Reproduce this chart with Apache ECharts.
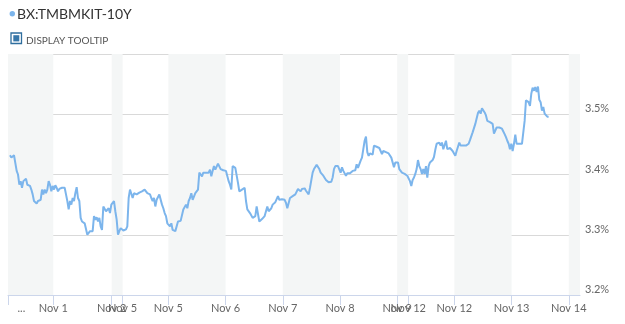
<!DOCTYPE html>
<html><head><meta charset="utf-8">
<script src="https://cdn.jsdelivr.net/npm/echarts@6/dist/echarts.min.js"></script>
<style>html,body{margin:0;padding:0;background:#fff}#c{width:625px;height:324px}</style>
</head><body><div id="c"></div>
<script>
const seriesName = 'BX:TMBMKIT-10Y';
const legendLabel = 'DISPLAY TOOLTIP';
const startHour = 0.84;
const stepHours = 0.5594;
const yieldsPart1 = [
3.432,3.428,3.426,3.432,3.433,3.406,3.400,3.383,3.389,3.378,3.389,3.392,3.393,3.383,3.386,3.381,3.375,3.367,3.356,3.358,
3.352,3.356,3.357,3.358,3.375,3.367,3.375,3.369,3.375,3.389,3.383,3.372,3.381,3.375,3.382,3.378,3.372,3.376,3.375,3.378,
3.379,3.378,3.367,3.356,3.342,3.356,3.350,3.361,3.356,3.369,3.379,3.361,3.356,3.328,3.322,3.325,3.319,3.317,3.300,3.303,
3.306,3.304,3.306,3.331,3.325,3.329,3.322,3.328,3.314,3.308,3.347,3.350,3.339,3.342,3.344,3.336,3.350,3.347,3.356,3.339,
3.325,3.300,3.306,3.311,3.308,3.307,3.308,3.309,3.314,3.361,3.375,3.378,3.361,3.369,3.367,3.367,3.369,3.370,3.367,3.372,
3.372,3.375,3.372,3.369,3.367,3.367,3.361,3.356,3.361,3.347,3.358,3.358,3.367,3.369,3.350,3.344,3.336,3.331,3.319,3.317,
3.314,3.319,3.308,3.311,3.306,3.304,3.322,3.322,3.323,3.325,3.342,3.344,3.350,3.344,3.356,3.361,3.369,3.358,3.361,3.369,
3.367,3.375,3.403,3.406,3.397,3.403,3.400,3.403,3.404,3.403,3.408,3.397,3.406,3.414,3.408,3.411,3.418,3.417,3.409,3.408,
3.407,3.406,3.406,3.403,3.389,3.383,3.375,3.414,3.411,3.411,3.411,3.386,3.372,3.369,3.375,3.372,3.378,3.356,3.342,3.339,
3.336,3.339,3.328,3.331,3.331,3.347,3.344,3.322,3.325,3.326,3.328,3.331,3.333,3.347,3.339,3.342,3.344,3.350,3.353,3.354,
3.356,3.364,3.358,3.361,3.359,3.356,3.358,3.353,3.344,3.344
];
const yieldsPart2 = [
3.361,3.362,3.364,3.366,3.367,3.366,3.376,3.373,3.372,3.376,3.374,3.377,3.373,3.376,3.367,3.378,3.381,3.403,3.409,3.406,
3.416,3.414,3.409,3.403,3.401,3.398,3.395,3.391,3.389,3.387,3.387,3.388,3.395,3.409,3.414,3.416,3.414,3.416,3.403,3.412,
3.406,3.403,3.398,3.402,3.401,3.402,3.403,3.406,3.409,3.407,3.417,3.411,3.414,3.423,3.428,3.442,3.456,3.463,3.437,3.431,
3.435,3.437,3.433,3.448,3.448,3.446,3.446,3.444,3.442,3.434,3.439,3.438,3.437,3.439,3.435,3.437,3.428,3.431,3.412,3.420,
3.422,3.420,3.409,3.406,3.403,3.406,3.401,3.398,3.398,3.395,3.389,3.381,3.391,3.395,3.401,3.409,3.424,3.414,3.409,3.401,
3.409,3.401,3.414,3.395,3.414,3.420,3.422,3.424,3.429,3.441,3.451,3.452,3.453,3.448,3.453,3.442,3.444,3.456,3.442,3.445,
3.444,3.442,3.439,3.437,3.431,3.439,3.442,3.453,3.448,3.448,3.448,3.448,3.448,3.448,3.451,3.457,3.459,3.470,3.473,3.484,
3.487,3.502,3.506,3.501,3.510,3.507,3.503,3.498,3.489,3.492,3.487,3.487,3.484,3.468,3.467,3.478,3.476,3.478,3.476,3.476,
3.473,3.467,3.462,3.456,3.451,3.442,3.451,3.439,3.451,3.466,3.451,3.451,3.451,3.448,3.451,3.451,3.489,3.523,3.526,3.520,
3.514,3.534,3.544,3.539,3.545,3.537,3.546,3.524,3.520,3.506,3.512,3.501,3.498,3.496,3.496
];
const yields = yieldsPart1.concat(yieldsPart2);
const tickHours = [0, 19.0, 43.5, 48.1, 67.3, 91.3, 115.3, 139.3, 163.3, 167.9, 187.3, 211.3, 235.3];
const labelHours = [5.6, 19.0, 43.5, 48.1, 67.3, 91.3, 115.3, 139.3, 163.3, 167.9, 187.3, 211.3, 235.3];
const tickLabels = ['...', 'Nov 1', 'Nov 2', 'Nov 5', 'Nov 5', 'Nov 6', 'Nov 7', 'Nov 8', 'Nov 9', 'Nov 12', 'Nov 12', 'Nov 13', 'Nov 14'];
const axisMinHour = 0, axisMaxHour = 240;
const shadedBands = [[0, 19.0], [43.5, 48.1], [67.3, 91.3], [115.3, 139.3], [163.3, 167.9], [187.3, 211.3], [235.3, 240]];
const yMin = 3.2, yMax = 3.6, yStep = 0.1;

const lineData = yields.map((v, i) => [startHour + i * stepHours, v]);

const chart = echarts.init(document.getElementById('c'), null, {renderer: 'canvas'});
const FONT = 'Lato, "Open Sans", sans-serif';
chart.setOption({
  animation: false,
  backgroundColor: '#ffffff',
  grid: {left: 8, right: 45, top: 54, bottom: 29, containLabel: false, outerBoundsMode: 'none'},
  xAxis: {
    type: 'value', min: axisMinHour, max: axisMaxHour,
    axisLine: {show: true, lineStyle: {color: '#ccd6eb', width: 1}},
    axisTick: {show: true, customValues: tickHours, length: 10, lineStyle: {color: '#ccd6eb'}},
    axisLabel: {
      customValues: labelHours, color: '#666666', fontSize: 11, fontFamily: FONT, margin: 8,
      hideOverlap: false,
      formatter: function (v) {
        for (let i = 0; i < labelHours.length; i++) if (Math.abs(labelHours[i] - v) < 0.01) return tickLabels[i];
        return '';
      }
    },
    splitLine: {show: false}
  },
  yAxis: {
    type: 'value', position: 'right', min: yMin, max: yMax, interval: yStep,
    axisLine: {show: false}, axisTick: {show: false},
    axisLabel: {
      color: '#666666', fontSize: 11, fontFamily: FONT, margin: 5, showMaxLabel: false,
      verticalAlign: 'bottom',
      formatter: v => v.toFixed(1) + '%'
    },
    splitLine: {show: true, lineStyle: {color: '#d9d9d9', width: 1}}
  },
  series: [
    {
      type: 'line', z: -1, silent: true, data: lineData, showSymbol: false,
      lineStyle: {opacity: 0}, tooltip: {show: false},
      markArea: {
        silent: true, itemStyle: {color: '#f4f6f6'},
        data: shadedBands.map(b => [{xAxis: b[0]}, {xAxis: b[1]}])
      }
    },
    {
      name: seriesName, type: 'line', data: lineData, showSymbol: false, smooth: false,
      lineStyle: {color: '#7cb5ec', width: 2}, itemStyle: {color: '#7cb5ec'}
    }
  ],
  graphic: [
    {type: 'circle', shape: {cx: 12.3, cy: 13.8, r: 2.7}, style: {fill: '#7cb5ec'}},
    {type: 'text', x: 17, y: 14, style: {text: seriesName, fill: '#333333', font: '14px ' + FONT, textVerticalAlign: 'middle'}},
    {type: 'rect', shape: {x: 11, y: 33, width: 10.5, height: 10.5}, style: {fill: '#ffffff', stroke: '#2f6e9e', lineWidth: 1.3}},
    {type: 'rect', shape: {x: 13.3, y: 35.2, width: 6, height: 6.2}, style: {fill: '#3877a9'}},
    {type: 'text', x: 26, y: 40.5, style: {text: legendLabel, fill: '#555555', font: '10px ' + FONT, textVerticalAlign: 'middle'}}
  ]
});
</script>
</body></html>
